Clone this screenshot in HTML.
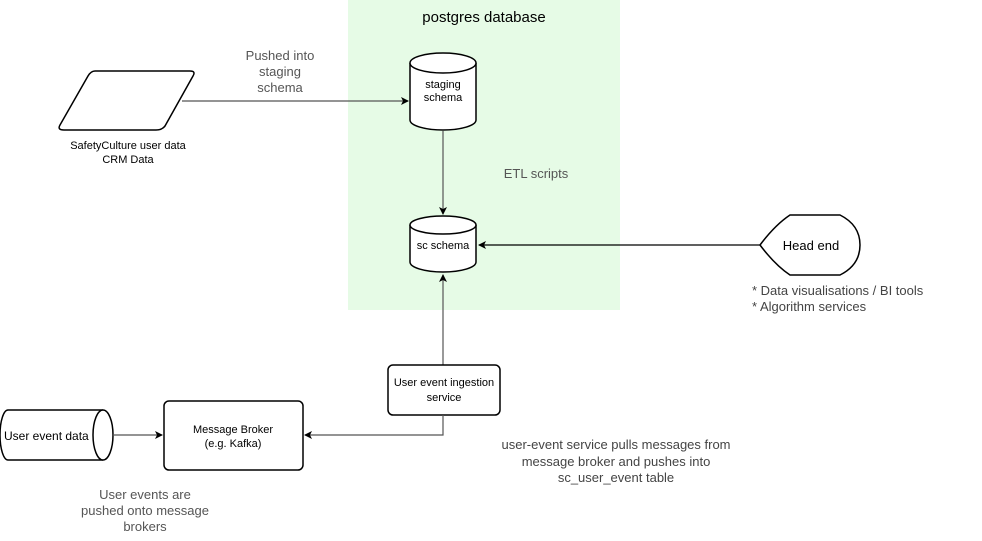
<!DOCTYPE html>
<html><head><style>body{margin:0;background:#fff}svg{display:block}text{font-family:"Liberation Sans",sans-serif}</style></head><body>
<svg width="982" height="541" viewBox="0 0 982 541" xmlns="http://www.w3.org/2000/svg">
<defs><marker id="a" markerWidth="8" markerHeight="8" refX="7" refY="4" orient="auto" markerUnits="userSpaceOnUse"><path d="M0,0 L8,4 L0,8 L2,4 Z" fill="#000"/></marker></defs>
<rect x="348" y="0" width="272" height="310" fill="#e6fbe6"/>
<text x="484" y="22" font-size="15" text-anchor="middle">postgres database</text>
<!-- parallelogram -->
<path d="M95,71 H190 Q196,71 193,76 L165,126 Q162,130 156,130 H64 Q57,130 60,125 L88,76 Q91,71 95,71 Z" fill="#fff" stroke="#000" stroke-width="1.5" stroke-linejoin="round"/>
<text font-size="11" text-anchor="middle"><tspan x="128" y="149">SafetyCulture user data</tspan><tspan x="128" y="163">CRM Data</tspan></text>
<text font-size="13" fill="#555" text-anchor="middle"><tspan x="280" y="60">Pushed into</tspan><tspan x="280" y="76">staging</tspan><tspan x="280" y="92">schema</tspan></text>
<line x1="182" y1="101" x2="408" y2="101" stroke="#555" stroke-width="1.2" marker-end="url(#a)"/>
<!-- staging cylinder -->
<path d="M410,63 V120 A33,10 0 0 0 476,120 V63" fill="#fff" stroke="#000" stroke-width="1.5"/>
<ellipse cx="443" cy="63" rx="33" ry="10" fill="#fff" stroke="#000" stroke-width="1.5"/>
<text font-size="11" text-anchor="middle"><tspan x="443" y="88">staging</tspan><tspan x="443" y="101">schema</tspan></text>
<line x1="443" y1="131" x2="443" y2="214" stroke="#555" stroke-width="1.2" marker-end="url(#a)"/>
<text x="536" y="178" font-size="13" fill="#555" text-anchor="middle">ETL scripts</text>
<!-- sc cylinder -->
<path d="M410,225 V262 A33,10 0 0 0 476,262 V225" fill="#fff" stroke="#000" stroke-width="1.5"/>
<ellipse cx="443" cy="225" rx="33" ry="9" fill="#fff" stroke="#000" stroke-width="1.5"/>
<text x="443" y="249" font-size="11" text-anchor="middle">sc schema</text>
<!-- head end -->
<path d="M760,245 Q775,225 790,215 H840 Q860,225 860,245 Q860,265 840,275 H790 Q775,265 760,245 Z" fill="#fff" stroke="#000" stroke-width="1.5"/>
<text x="811" y="250" font-size="13" text-anchor="middle">Head end</text>
<line x1="760" y1="245" x2="479" y2="245" stroke="#000" stroke-width="1.2" marker-end="url(#a)"/>
<text font-size="13" fill="#444"><tspan x="752" y="295">* Data visualisations / BI tools</tspan><tspan x="752" y="311">* Algorithm services</tspan></text>
<!-- ingestion -->
<line x1="443" y1="365" x2="443" y2="275" stroke="#555" stroke-width="1.2" marker-end="url(#a)"/>
<rect x="388" y="365" width="112" height="50" rx="5" fill="#fff" stroke="#000" stroke-width="1.5"/>
<text font-size="11" text-anchor="middle"><tspan x="444" y="386">User event ingestion</tspan><tspan x="444" y="401">service</tspan></text>
<polyline points="443,415 443,435 305,435" fill="none" stroke="#555" stroke-width="1.2" marker-end="url(#a)"/>
<text font-size="13" fill="#444" text-anchor="middle"><tspan x="616" y="449">user-event service pulls messages from</tspan><tspan x="616" y="466">message broker and pushes into</tspan><tspan x="616" y="482">sc_user_event table</tspan></text>
<!-- broker -->
<rect x="164" y="401" width="139" height="69" rx="5" fill="#fff" stroke="#000" stroke-width="1.5"/>
<text font-size="11" text-anchor="middle"><tspan x="233" y="433">Message Broker</tspan><tspan x="233" y="447">(e.g. Kafka)</tspan></text>
<!-- user event data horizontal cylinder -->
<path d="M103,410 H8 A8,25 0 0 0 8,460 H103" fill="#fff" stroke="#000" stroke-width="1.5"/>
<ellipse cx="103" cy="435" rx="10" ry="25" fill="#fff" stroke="#000" stroke-width="1.5"/>
<text x="4" y="440" font-size="12">User event data</text>
<line x1="113" y1="435" x2="162" y2="435" stroke="#555" stroke-width="1.2" marker-end="url(#a)"/>
<text font-size="13" fill="#555" text-anchor="middle"><tspan x="145" y="499">User events are</tspan><tspan x="145" y="515">pushed onto message</tspan><tspan x="145" y="531">brokers</tspan></text>
</svg>
</body></html>
